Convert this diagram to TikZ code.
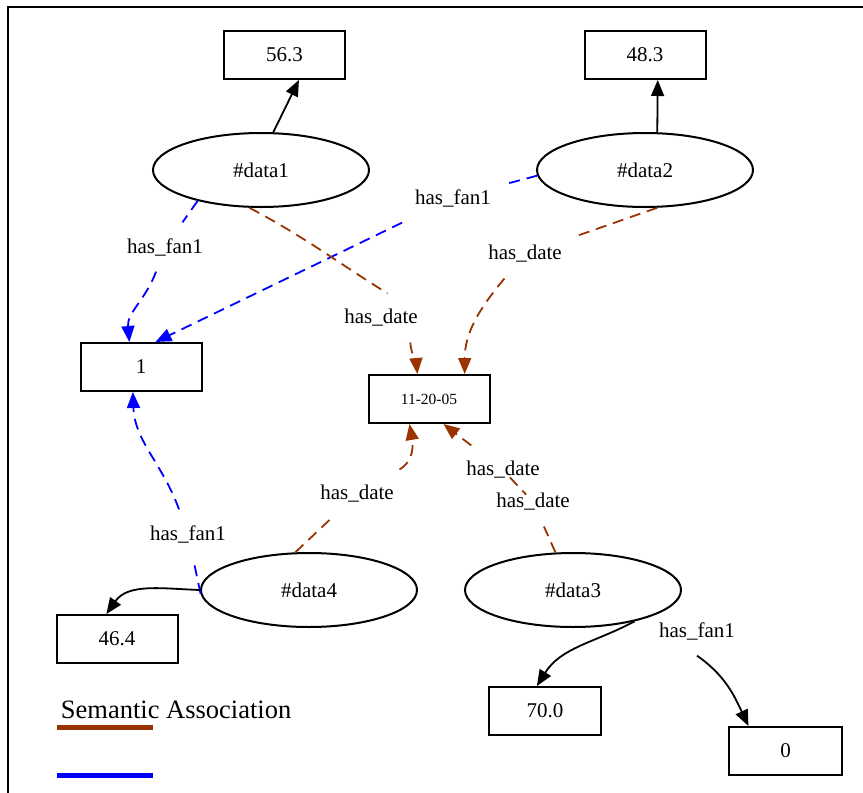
\documentclass[tikz,border=0pt]{standalone}
\usepackage{fontspec}
\setmainfont{Liberation Serif}
\usetikzlibrary{arrows.meta,shapes.geometric}
\definecolor{semcol}{RGB}{153,51,0}
\definecolor{fancol}{RGB}{0,0,255}

\begin{document}
\begin{tikzpicture}[x=1pt,y=-1pt,line width=1.8pt,
  >={Triangle[length=16pt,width=13pt]},
  val/.style={draw,line width=2pt,minimum width=121pt,minimum height=48pt,font=\fontsize{21}{25}\selectfont},
  inst/.style={draw,ellipse,line width=2pt,minimum width=216pt,minimum height=74pt,inner sep=0pt,font=\fontsize{21}{25}\selectfont},
  lbl/.style={inner sep=15pt,font=\fontsize{21}{25}\selectfont},
  fan/.style={fancol,dash pattern=on 11pt off 7pt},
  sem/.style={semcol,dash pattern=on 11pt off 7pt}]
  \useasboundingbox (0,0) rectangle (863,793);
  \draw[line width=2pt] (8,793) -- (8,7) -- (863,7);

  \node[val] (v563) at (284.5,55) {56.3};
  \node[val] (v483) at (645,55) {48.3};
  \node[inst] (data1) at (261,170) {\#data1};
  \node[inst] (data2) at (645,170) {\#data2};
  \node[val] (one) at (141,367) {1};
  \node[val,font=\fontsize{15.5}{18}\selectfont] (ten) at (429,399) {11-20-05};
  \node[inst] (data4) at (309,590) {\#data4};
  \node[inst] (data3) at (573,590) {\#data3};
  \node[val] (v464) at (117,639) {46.4};
  \node[val,minimum width=112pt] (v700) at (545,711) {70.0};
  \node[val,minimum width=113pt] (zero) at (785.5,751) {0};

  \node[lbl] (lf1) at (165,247) {has\_fan1};
  \node[lbl] (lf2) at (453,198) {has\_fan1};
  \node[lbl] (lf4) at (188,534) {has\_fan1};
  \node[lbl] (lf3) at (697,631) {has\_fan1};
  \node[lbl] (ld1) at (381,318) {has\_date};
  \node[lbl] (ld2) at (525,254) {has\_date};
  \node[lbl] (ld4) at (357,494) {has\_date};
  \node[lbl] (ld3a) at (533,502) {has\_date};
  \node[lbl] (ld3b) at (503,470) {has\_date};

  \draw[->] (data1.72) -- (v563.300);
  \draw[->] (data2.72) -- (v483.297);

  \draw[fan] (data1.206) -- (lf1);
  \draw[fan,->] (lf1) to[out=-110,in=95] (one.115);
  \draw[fan] (data2.183) -- (lf2);
  \draw[fan,->] (lf2) -- (one.60);
  \draw[fan] (data4.182) -- (lf4);
  \draw[fan,->] (lf4) to[out=110,in=-88] (one.252);

  \draw[sem] (data1.253) to[out=-28,in=148] (ld1.75);
  \draw[sem,->] (ld1.-40) to[out=-85,in=95] (ten.115);
  \draw[sem] (data2.288) -- (ld2);
  \draw[sem,->] (ld2) to[out=-130,in=90] (ten.35);
  \draw[sem] (data4.110) -- (ld4);
  \draw[sem,->] (ld4) to[out=30,in=-80] (ten.232);
  \draw[sem,->] (data3.115) -- (ld3a) -- (ld3b) -- (ten.300);

  \draw[->] (data4.180) to[out=178,in=55] (v464.113);
  \draw[->] (data3.333) to[out=-152,in=58] (v700.108);
  \draw[->] (lf3.south) to[out=-35,in=115] (zero.146);

  \node[anchor=base west,inner sep=0pt,font=\fontsize{26.5}{30}\selectfont] (legtext) at (60,718) {Semantic Association};
  \draw[semcol,line width=5pt] (57,727) -- (153,727);
  \draw[fancol,line width=5pt] (57,775) -- (153,775);
\end{tikzpicture}
\end{document}
